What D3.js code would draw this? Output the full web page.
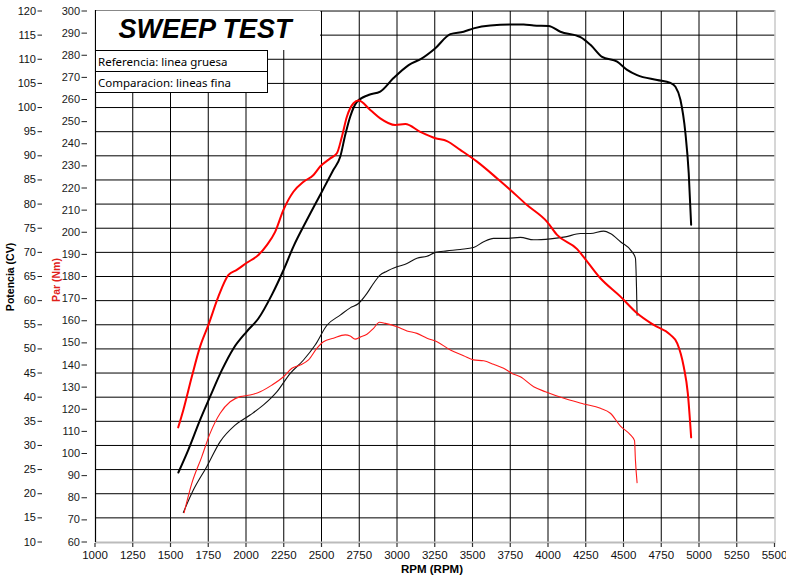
<!DOCTYPE html>
<html><head><meta charset="utf-8">
<script src="https://cdn.jsdelivr.net/npm/d3@7/dist/d3.min.js"></script>
<style>
html,body{margin:0;padding:0;background:#fff;}
svg{display:block;}
</style></head>
<body><svg id="c" width="786" height="578"></svg>
<script>
// ---- data ----
const rpmTicks = d3.range(1000, 5501, 250);
const potTicks = d3.range(10, 121, 5);
const parTicks = d3.range(60, 301, 10);

// Reference (thick) – Potencia (CV)
const refPotRpm = [1552,1618,1696,1762,1840,1917,2005,2082,2171,2248,2314,2403,2491,2579,2624,2657,2690,2735,2811,2889,2977,3077,3165,3254,3353,3441,3507,3618,3773,3839,3905,4004,4082,4215,4281,4358,4458,4524,4590,4723,4811,4844,4877,4910,4932,4948];
const refPotCV  = [24.4,29.1,35.3,40.1,45.6,50.1,53.6,56.3,61.2,66.3,71.2,76.7,81.9,87.1,89.8,94.3,98.1,101.2,102.6,103.3,106.1,108.8,110.2,112.3,115.2,115.7,116.4,117.0,117.2,117.2,117.0,116.9,115.7,114.6,113.0,110.5,109.5,107.8,106.7,105.7,105.1,104.3,101.6,94.7,86.4,75.7];

// Reference (thick) – Par (Nm)
const refParRpm = [1551,1585,1641,1696,1751,1817,1884,1939,2005,2082,2138,2193,2248,2314,2381,2447,2491,2558,2602,2635,2668,2712,2745,2823,2889,2988,3055,3154,3254,3331,3419,3530,3662,3751,3861,3994,4060,4193,4226,4347,4480,4590,4700,4811,4856,4899,4926,4948];
const refParNm  = [111.8,119.7,134.7,148.3,158.1,170.9,180.7,183.0,186.2,189.7,194.2,200.2,210.1,218.3,222.8,225.9,229.7,233.4,235.7,243.2,252.2,258.3,259.5,255.3,251.5,248.5,248.9,245.4,242.5,241.2,237.2,231.9,224.4,219.1,212.3,204.7,198.8,192.4,189.7,179.2,170.9,163.4,158.1,153.6,149.8,139.2,127.2,107.3];

// Comparison (thin) – Potencia (CV)
const cmpPotRpm = [1585,1652,1740,1829,1928,2027,2116,2204,2292,2381,2458,2536,2624,2690,2745,2801,2845,2884,2933,3000,3066,3132,3199,3254,3331,3419,3507,3574,3640,3729,3817,3905,4016,4115,4215,4281,4369,4413,4480,4557,4579,4586,4590];
const cmpPotCV  = [16.1,20.8,25.6,30.8,34.2,36.3,38.4,41.1,44.9,47.7,50.8,54.9,57.0,58.5,59.4,61.5,63.6,65.2,66.1,67.0,67.7,68.8,69.2,70.0,70.3,70.6,71.0,72.2,72.9,72.9,73.1,72.6,72.8,73.2,73.9,73.9,74.4,73.9,72.2,70.1,68.8,62.9,57.0];

// Comparison (thin) – Par (Nm)
const cmpParRpm = [1590,1641,1707,1762,1829,1895,1961,2027,2094,2171,2248,2304,2359,2414,2469,2513,2579,2657,2690,2723,2756,2801,2845,2884,2922,3000,3066,3132,3199,3265,3353,3441,3507,3574,3640,3706,3762,3817,3905,3983,4126,4236,4347,4413,4480,4546,4573,4579,4590];
const cmpParNm  = [73.2,86.5,98.5,109.1,118.2,123.4,125.7,126.4,127.9,130.9,134.7,138.5,140.0,142.3,147.5,150.5,152.1,153.6,153.1,151.7,152.6,153.9,156.6,159.3,158.8,157.3,155.4,154.3,152.1,150.5,146.8,144.2,142.3,141.9,140.3,138.5,136.2,134.7,130.2,127.9,124.5,122.4,120.4,118.2,112.4,108.4,105.8,97.0,86.8];

const titleText = "SWEEP TEST";
const legendTexts = ["Referencia: linea gruesa", "Comparacion: lineas fina"];

// ---- layout ----
const L = 95, R = 774.5, T = 11, B = 542;
const svg = d3.select("#c");
const x = d3.scaleLinear().domain([1000, 5500]).range([L, R]);
const yP = d3.scaleLinear().domain([10, 120]).range([B, T]);
const yT = d3.scaleLinear().domain([60, 300]).range([B, T]);
const narrow = "'Liberation Sans Narrow','Arial Narrow','Liberation Sans',Arial,sans-serif";
const sans = "'Liberation Sans',Arial,sans-serif";

// grid
const g = svg.append("g");
g.selectAll("line.v").data(rpmTicks.filter(d => d > 1000 && d < 5500)).join("line")
  .attr("x1", d => x(d)).attr("x2", d => x(d)).attr("y1", T).attr("y2", B)
  .attr("stroke", "#000").attr("stroke-width", 1);
g.selectAll("line.h").data(potTicks.filter(d => d > 10)).join("line")
  .attr("x1", L).attr("x2", R).attr("y1", d => yP(d)).attr("y2", d => yP(d))
  .attr("stroke", "#000").attr("stroke-width", 1);
// frame
g.append("line").attr("x1", L).attr("x2", R + 0.5).attr("y1", 10.5).attr("y2", 10.5).attr("stroke", "#888").attr("stroke-width", 1.2);
g.append("line").attr("x1", R + 0.5).attr("x2", R + 0.5).attr("y1", 10).attr("y2", B).attr("stroke", "#bbb").attr("stroke-width", 1.2);
g.append("line").attr("x1", L).attr("x2", R + 1).attr("y1", B + 0.5).attr("y2", B + 0.5).attr("stroke", "#bbb").attr("stroke-width", 2);
g.append("line").attr("x1", L + 0.5).attr("x2", L + 0.5).attr("y1", 10).attr("y2", B).attr("stroke", "#000").attr("stroke-width", 1.2);

// x ticks
g.selectAll("line.xt").data(rpmTicks).join("line")
  .attr("x1", d => x(d)).attr("x2", d => x(d)).attr("y1", B + 1).attr("y2", B + 5)
  .attr("stroke", "#333").attr("stroke-width", 1.2);
g.selectAll("text.xl").data(rpmTicks).join("text")
  .attr("x", d => x(d)).attr("y", 559).attr("text-anchor", "middle")
  .attr("font-family", narrow).attr("font-size", 11.5).attr("fill", "#111").text(d => d);
svg.append("text").attr("x", 432).attr("y", 573).attr("text-anchor", "middle")
  .attr("font-family", narrow).attr("font-weight", "bold").attr("font-size", 11.5).attr("fill", "#000").text("RPM (RPM)");

// left Potencia axis
g.selectAll("text.pl").data(potTicks).join("text")
  .attr("x", 36).attr("y", d => yP(d) + 3.5).attr("text-anchor", "end")
  .attr("font-family", narrow).attr("font-size", 11).attr("fill", "#111").text(d => d);
g.selectAll("line.pt").data(potTicks).join("line")
  .attr("x1", 37.5).attr("x2", 42).attr("y1", d => yP(d)).attr("y2", d => yP(d))
  .attr("stroke", "#222").attr("stroke-width", 1);
// Par axis labels (second column)
g.selectAll("text.tl").data(parTicks).join("text")
  .attr("x", 80).attr("y", d => yT(d) + 3.5).attr("text-anchor", "end")
  .attr("font-family", narrow).attr("font-size", 11).attr("fill", "#1a1a1a").text(d => d);
g.selectAll("line.tt").data(parTicks).join("line")
  .attr("x1", 81.5).attr("x2", 87).attr("y1", d => yT(d)).attr("y2", d => yT(d))
  .attr("stroke", "#222").attr("stroke-width", 1);

svg.append("text").attr("transform", "translate(14,277) rotate(-90)").attr("text-anchor", "middle")
  .attr("font-family", sans).attr("font-weight", "bold").attr("font-size", 10.5).attr("fill", "#000").text("Potencia (CV)");
svg.append("text").attr("transform", "translate(60,280) rotate(-90)").attr("text-anchor", "middle")
  .attr("font-family", sans).attr("font-weight", "bold").attr("font-size", 10.5).attr("fill", "#e0201a").text("Par (Nm)");

// title box & legend
svg.append("rect").attr("x", L + 1).attr("y", 11).attr("width", 320 - L - 1).attr("height", 39).attr("fill", "#fff");
svg.append("text").attr("x", 205).attr("y", 38).attr("text-anchor", "middle")
  .attr("font-family", sans).attr("font-weight", "bold").attr("font-style", "italic").attr("font-size", 27)
  .attr("fill", "#000").text(titleText);
legendTexts.forEach((t, i) => {
  svg.append("rect").attr("x", 95.5).attr("y", 50.5 + i * 21).attr("width", 172).attr("height", 21)
    .attr("fill", "#fff").attr("stroke", "#000").attr("stroke-width", 1);
  svg.append("text").attr("x", 98).attr("y", 65.5 + i * 21)
    .attr("font-family", "'Noto Sans','Open Sans',sans-serif").attr("font-size", 11.5).attr("fill", "#000").text(t);
});

// curves
const linePot = d3.line().curve(d3.curveMonotoneX).x(d => x(d[0])).y(d => yP(d[1]));
const linePar = d3.line().curve(d3.curveMonotoneX).x(d => x(d[0])).y(d => yT(d[1]));
const zip = (a, b) => a.map((v, i) => [v, b[i]]);
const curves = svg.append("g").attr("fill", "none").attr("stroke-linejoin", "round").attr("stroke-linecap", "round");
curves.append("path").attr("d", linePot(zip(cmpPotRpm, cmpPotCV))).attr("stroke", "#111").attr("stroke-width", 1.1);
curves.append("path").attr("d", linePar(zip(cmpParRpm, cmpParNm))).attr("stroke", "#ff1a1a").attr("stroke-width", 1.1);
curves.append("path").attr("d", linePot(zip(refPotRpm, refPotCV))).attr("stroke", "#000").attr("stroke-width", 2);
curves.append("path").attr("d", linePar(zip(refParRpm, refParNm))).attr("stroke", "#ff0000").attr("stroke-width", 2);
</script></body></html>
